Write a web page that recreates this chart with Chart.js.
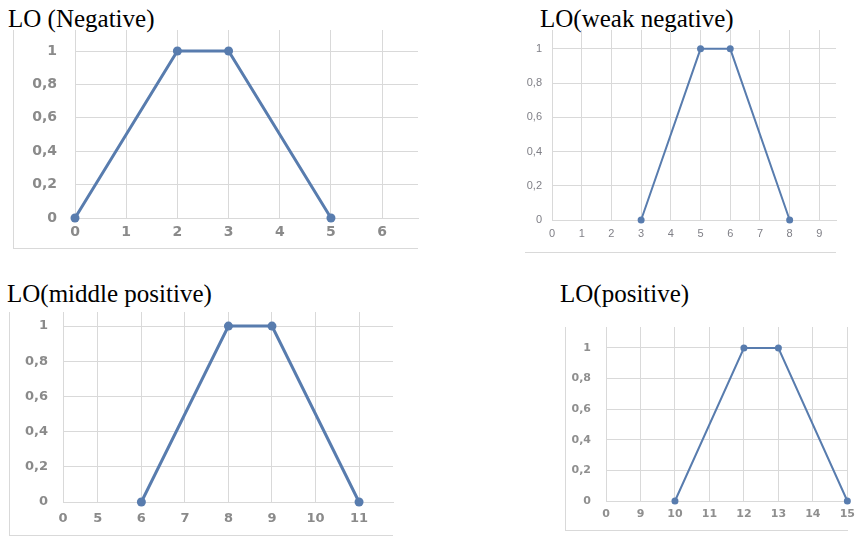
<!DOCTYPE html>
<html lang="en">

<head>
  <meta charset="UTF-8">
  <title>LO</title>
  <style>
    body {
      margin: 0;
      width: 866px;
      height: 539px;
      background: #ffffff;
      position: relative;
      overflow: hidden;
    }

    /* Títulos em fonte serifada, fora da área do gráfico */
    .titulo {
      position: absolute;
      font-family: "Liberation Serif", "Times New Roman", serif;
      font-size: 25px;
      line-height: 25px;
      color: #000000;
      white-space: nowrap;
    }

    /* Moldura cinza clara (linha esquerda e de baixo) */
    .moldura {
      position: absolute;
      box-sizing: border-box;
      border: 0 solid #d9d9d9;
    }

    canvas {
      position: absolute;
    }
  </style>
</head>

<body>
  <div class="titulo" style="left:8px; top:6px;">LO (Negative)</div>
  <div class="titulo" style="left:540px; top:6px;">LO(weak negative)</div>
  <div class="titulo" style="left:7px; top:281px;">LO(middle positive)</div>
  <div class="titulo" style="left:560px; top:281px;">LO(positive)</div>

  <div class="moldura" style="left:13px; top:30px; width:405px; height:219px; border-left-width:1px; border-bottom-width:1px;"></div>
  <div class="moldura" style="left:525px; top:251px; width:311px; height:2px; border-bottom-width:1px;"></div>
  <div class="moldura" style="left:9px; top:312px; width:384px; height:224px; border-left-width:1px; border-bottom-width:1px;"></div>
  <div class="moldura" style="left:565px; top:327px; width:283px; height:204px; border-left-width:1px; border-bottom-width:1px;"></div>

  <!-- canvas começa 30px acima da área de plotagem (padding do layout) -->
  <canvas id="chart_neg" width="407" height="248" style="left:25px; top:0px;"></canvas>
  <canvas id="chart_fraco" width="348" height="250" style="left:502px; top:0px;"></canvas>
  <canvas id="chart_medio" width="394" height="250" style="left:13px; top:282px;"></canvas>
  <canvas id="chart_pos" width="306" height="234" style="left:556px; top:297px;"></canvas>

  <script src="https://cdn.jsdelivr.net/npm/chart.js"></script>

  <script>
    // Valores do eixo Y (iguais nos quatro gráficos)
    const valoresY = [0, 0.2, 0.4, 0.6, 0.8, 1];

    // LO (Negative)
    const rotulosNeg = ['0', '1', '2', '3', '4', '5', '6'];
    const xNeg = [0, 2, 3, 5];
    const yNeg = [0, 1, 1, 0];

    // LO(weak negative)
    const rotulosFraco = ['0', '1', '2', '3', '4', '5', '6', '7', '8', '9'];
    const xFraco = [3, 5, 6, 8];
    const yFraco = [0, 1, 1, 0];

    // LO(middle positive)
    const rotulosMedio = ['0', '5', '6', '7', '8', '9', '10', '11'];
    const xMedio = [6, 8, 9, 11];
    const yMedio = [0, 1, 1, 0];

    // LO(positive)
    const rotulosPos = ['0', '9', '10', '11', '12', '13', '14', '15'];
    const xPos = [10, 12, 13, 15];
    const yPos = [0, 1, 1, 0];

    const corLinha = 'rgb(88, 124, 174)';
    const corGrade = '#d9d9d9';

    // Cria um gráfico de linha; o primeiro rótulo ("0") fica sempre na borda esquerda
    function criarGrafico(canvasId, rotulos, xs, ys, cfg) {
      const ctx = document.getElementById(canvasId).getContext('2d');
      const posicoes = rotulos.map((r, i) => i === 0 ? cfg.xMin : Number(r));

      return new Chart(ctx, {
        type: 'line',
        data: {
          datasets: [{
            data: xs.map((x, i) => ({ x: x, y: ys[i] })),
            borderColor: corLinha,
            backgroundColor: corLinha,
            borderWidth: cfg.espessura,
            pointRadius: cfg.raio,
            pointBorderWidth: 0,
            pointBackgroundColor: corLinha,
            tension: 0,
            clip: false
          }]
        },
        options: {
          responsive: false,
          animation: false,
          layout: { padding: { top: 30, right: 14, left: 0, bottom: 0 } },
          plugins: {
            legend: { display: false },
            tooltip: { enabled: false }
          },
          scales: {
            x: {
              type: 'linear',
              min: cfg.xMin,
              max: cfg.xMax,
              afterBuildTicks: s => { s.ticks = posicoes.map(v => ({ value: v })); },
              afterFit: s => { s.height = 30; },
              grid: { color: corGrade, lineWidth: 1, drawTicks: false },
              border: { color: corGrade },
              ticks: {
                padding: cfg.padX,
                autoSkip: false,
                maxRotation: 0,
                color: cfg.corTexto,
                font: cfg.fonte,
                callback: (v, i) => rotulos[i]
              }
            },
            y: {
              min: 0,
              max: cfg.yMax,
              afterBuildTicks: s => { s.ticks = valoresY.map(v => ({ value: v })); },
              afterFit: s => { s.width = 50; },
              grid: { color: corGrade, lineWidth: 1, drawTicks: false },
              border: { color: corGrade },
              ticks: {
                padding: cfg.padY,
                color: cfg.corTexto,
                font: cfg.fonte,
                callback: v => String(v).replace('.', ',')
              }
            }
          }
        }
      });
    }

    criarGrafico('chart_neg', rotulosNeg, xNeg, yNeg, {
      xMin: 0, xMax: 6.7, yMax: 1.126, espessura: 3, raio: 4.5,
      fonte: { family: 'DejaVu Sans', size: 14, weight: 'bold' }, corTexto: '#8a8a8a', padX: 6, padY: 18
    });

    criarGrafico('chart_fraco', rotulosFraco, xFraco, yFraco, {
      xMin: 0, xMax: 9.56, yMax: 1.11, espessura: 2, raio: 3.5,
      fonte: { family: 'Liberation Sans', size: 11 }, corTexto: '#7f7f86', padX: 7, padY: 10
    });

    criarGrafico('chart_medio', rotulosMedio, xMedio, yMedio, {
      xMin: 4.2, xMax: 11.78, yMax: 1.08, espessura: 3, raio: 4.5,
      fonte: { family: 'DejaVu Sans', size: 13, weight: 'bold' }, corTexto: '#8a8a8a', padX: 9, padY: 15
    });

    criarGrafico('chart_pos', rotulosPos, xPos, yPos, {
      xMin: 8, xMax: 15, yMax: 1.137, espessura: 2, raio: 3.5,
      fonte: { family: 'DejaVu Sans', size: 11, weight: 'bold' }, corTexto: '#8f8f8f', padX: 7, padY: 15
    });
  </script>
</body>

</html>
